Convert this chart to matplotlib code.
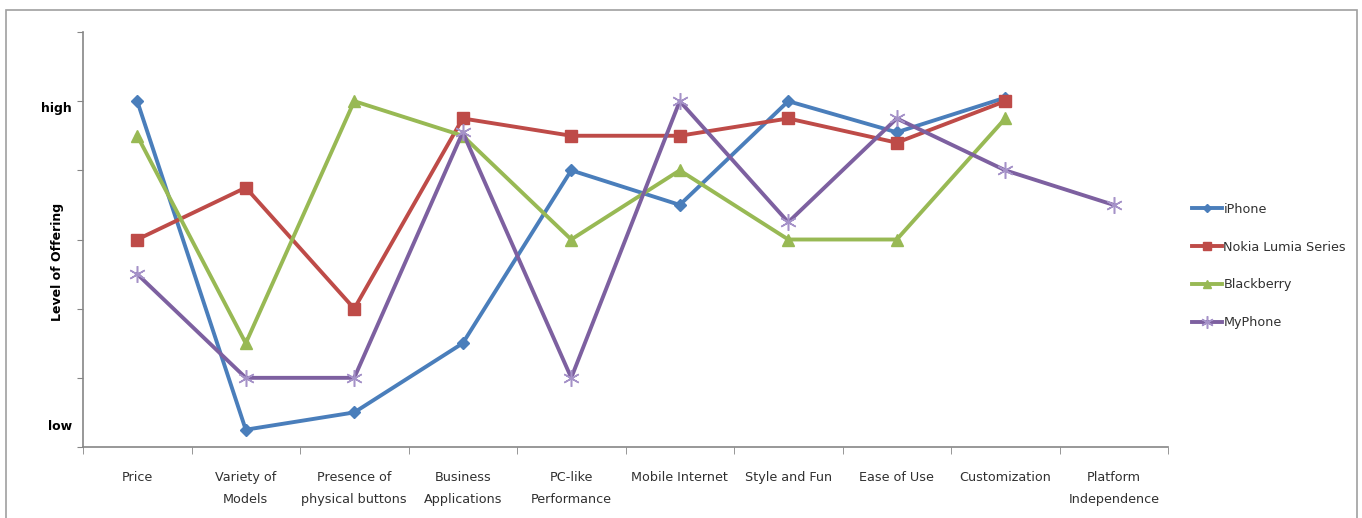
import numpy as np
import matplotlib
matplotlib.use("Agg")
import matplotlib.pyplot as plt
from matplotlib.patches import Rectangle

plt.rcParams['font.family'] = ['DejaVu Sans']

# categories and ratings (0 = low ... 6 = top of axis)
categories = ["Price", "Variety of\nModels", "Presence of\nphysical buttons",
              "Business\nApplications", "PC-like\nPerformance", "Mobile Internet",
              "Style and Fun", "Ease of Use", "Customization",
              "Platform\nIndependence"]
iphone = [5.0, 0.25, 0.5, 1.5, 4.0, 3.5, 5.0, 4.55, 5.05, np.nan]
nokia = [3.0, 3.75, 2.0, 4.75, 4.5, 4.5, 4.75, 4.4, 5.0, np.nan]
blackberry = [4.5, 1.5, 5.0, 4.5, 3.0, 4.0, 3.0, 3.0, 4.75, np.nan]
myphone = [2.5, 1.0, 1.0, 4.55, 1.0, 5.0, 3.25, 4.75, 4.0, 3.5]

fig = plt.figure(figsize=(13.62, 5.18), dpi=100)
ax = fig.add_axes([83/1362, 71/518, 1085/1362, 415/518])

x = np.arange(len(categories))
ax.plot(x, iphone, color='#4A7EBB', lw=2.8, marker='D', ms=6, label='iPhone')
ax.plot(x, nokia, color='#BE4B48', lw=2.8, marker='s', ms=8, label='Nokia Lumia Series')
ax.plot(x, blackberry, color='#98B954', lw=2.8, marker='^', ms=8, label='Blackberry')
ax.plot(x, myphone, color='#7D60A0', lw=2.8, marker=(6, 2, 0), ms=12,
        mec='#A592C8', mew=1.1, label='MyPhone')

ax.set_xlim(-0.5, len(categories) - 0.5)
ax.set_ylim(0, 6)

# category labels centred, tick marks between categories
ax.set_xticks(x)
ax.set_xticklabels(categories, fontsize=9.2, color='#303030', linespacing=1.95)
ax.set_xticks(np.arange(-0.5, len(categories)), minor=True)
ax.tick_params(axis='x', which='major', length=0, pad=17)
ax.tick_params(axis='x', which='minor', length=5, direction='out', color='#868686')

ax.set_yticks(np.arange(0, 7))
ax.set_yticklabels([])
ax.tick_params(axis='y', length=4, direction='out', color='#868686')

for s in ['top', 'right']:
    ax.spines[s].set_visible(False)
for s in ['left', 'bottom']:
    ax.spines[s].set_color('#868686')
    ax.spines[s].set_linewidth(1.2)

ax.text(-0.6, 4.9, 'high', ha='right', va='center', fontsize=9, fontweight='bold')
ax.text(-0.6, 0.3, 'low', ha='right', va='center', fontsize=9, fontweight='bold')
fig.text(58/1362, 1 - 262/518, 'Level of Offering', rotation=90, ha='center',
         va='center', fontsize=9, fontweight='bold')

leg = fig.legend(loc='center left', bbox_to_anchor=(1180/1362, 1 - 266/518),
                 frameon=False, fontsize=9.2, handlelength=2.4, handletextpad=0.1,
                 labelspacing=1.95, markerscale=0.75)
for t in leg.get_texts():
    t.set_color('#303030')

# chart area border
fig.add_artist(Rectangle((6/1362, -0.1), 1351/1362, 1.1 - 10/518,
                         transform=fig.transFigure, fill=False,
                         edgecolor='#A0A0A0', lw=1.2))

fig.savefig('out.png', dpi=100)
